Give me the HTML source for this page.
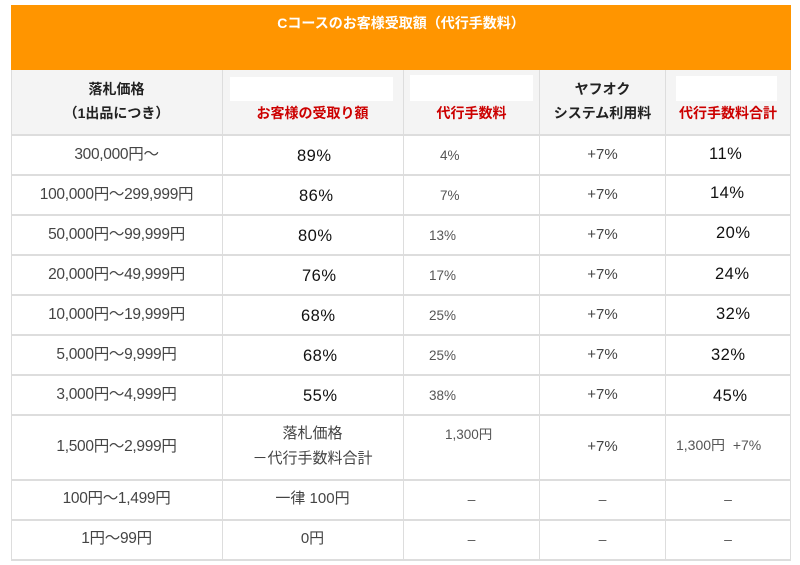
<!DOCTYPE html>
<html><head><meta charset="utf-8"><style>
body{margin:0;width:800px;height:565px;background:#fff;position:relative;overflow:hidden;font-family:"Liberation Sans","Noto Sans CJK JP",sans-serif;}
.a{position:absolute;white-space:nowrap;line-height:1;}
.h{position:absolute;background:#ddd;height:2px;left:11px;width:780px;}
.v{position:absolute;background:#ddd;width:1px;}
.c1{color:#444;font-size:15.5px;width:211px;left:11px;text-align:center;letter-spacing:-0.3px;}
.p{color:#111;font-size:16.5px;letter-spacing:0.5px;}
.s{color:#555;font-size:13.5px;}
.c4{color:#444;font-size:15px;left:540px;width:125px;text-align:center;}
.r{color:#c00;font-size:14px;font-weight:bold;}
.k{color:#222;font-size:14px;font-weight:bold;}
.w{position:absolute;background:#fff;}
.d{color:#555;font-size:14px;}
</style></head><body>
<div style="position:absolute;left:11px;top:5px;width:780px;height:65px;background:#ff9500;"></div>
<div class="a" style="left:11px;width:780px;text-align:center;top:16px;color:#fff;font-size:14px;font-weight:bold;">Cコースのお客様受取額（代行手数料）</div>
<div style="position:absolute;left:11px;top:70px;width:780px;height:65px;background:#f4f4f4;"></div>
<div class="w" style="left:230px;top:77px;width:163px;height:24px;"></div>
<div class="w" style="left:410px;top:75px;width:123px;height:26px;"></div>
<div class="w" style="left:676px;top:76px;width:101px;height:25px;"></div>
<div class="a k" style="left:11px;width:211px;text-align:center;top:82px;">落札価格</div>
<div class="a k" style="left:11px;width:211px;text-align:center;top:106px;">（1出品につき）</div>
<div class="a r" style="left:222px;width:181px;text-align:center;top:106px;">お客様の受取り額</div>
<div class="a r" style="left:403px;width:137px;text-align:center;top:106px;">代行手数料</div>
<div class="a k" style="left:540px;width:125px;text-align:center;top:82px;">ヤフオク</div>
<div class="a k" style="left:540px;width:125px;text-align:center;top:106px;">システム利用料</div>
<div class="a r" style="left:665px;width:126px;text-align:center;top:106px;">代行手数料合計</div>

<div class="v" style="left:11px;top:70px;height:491px;"></div>
<div class="v" style="left:222px;top:70px;height:491px;"></div>
<div class="v" style="left:403px;top:70px;height:491px;"></div>
<div class="v" style="left:539px;top:70px;height:491px;"></div>
<div class="v" style="left:665px;top:70px;height:491px;"></div>
<div class="v" style="left:790px;top:70px;height:491px;"></div>
<div class="h" style="top:134px"></div><div class="h" style="top:174px"></div><div class="h" style="top:214px"></div><div class="h" style="top:254px"></div><div class="h" style="top:294px"></div><div class="h" style="top:334px"></div><div class="h" style="top:374px"></div><div class="h" style="top:414px"></div><div class="h" style="top:479px"></div><div class="h" style="top:519px"></div><div class="h" style="top:559px"></div>

<div class="a c1" style="top:147px">300,000円～</div>
<div class="a p" style="left:297px;top:148px">89%</div>
<div class="a s" style="left:440px;top:149px">4%</div>
<div class="a c4" style="top:147px">+7%</div>
<div class="a p" style="left:709px;top:146px">11%</div>

<div class="a c1" style="top:187px">100,000円～299,999円</div>
<div class="a p" style="left:299px;top:188px">86%</div>
<div class="a s" style="left:440px;top:189px">7%</div>
<div class="a c4" style="top:187px">+7%</div>
<div class="a p" style="left:710px;top:185px">14%</div>

<div class="a c1" style="top:227px">50,000円～99,999円</div>
<div class="a p" style="left:298px;top:228px">80%</div>
<div class="a s" style="left:429px;top:229px">13%</div>
<div class="a c4" style="top:227px">+7%</div>
<div class="a p" style="left:716px;top:225px">20%</div>

<div class="a c1" style="top:267px">20,000円～49,999円</div>
<div class="a p" style="left:302px;top:268px">76%</div>
<div class="a s" style="left:429px;top:269px">17%</div>
<div class="a c4" style="top:267px">+7%</div>
<div class="a p" style="left:715px;top:266px">24%</div>

<div class="a c1" style="top:307px">10,000円～19,999円</div>
<div class="a p" style="left:301px;top:308px">68%</div>
<div class="a s" style="left:429px;top:309px">25%</div>
<div class="a c4" style="top:307px">+7%</div>
<div class="a p" style="left:716px;top:306px">32%</div>

<div class="a c1" style="top:347px">5,000円～9,999円</div>
<div class="a p" style="left:303px;top:348px">68%</div>
<div class="a s" style="left:429px;top:349px">25%</div>
<div class="a c4" style="top:347px">+7%</div>
<div class="a p" style="left:711px;top:347px">32%</div>

<div class="a c1" style="top:387px">3,000円～4,999円</div>
<div class="a p" style="left:303px;top:388px">55%</div>
<div class="a s" style="left:429px;top:389px">38%</div>
<div class="a c4" style="top:387px">+7%</div>
<div class="a p" style="left:713px;top:388px">45%</div>

<div class="a c1" style="top:439px">1,500円～2,999円</div>
<div class="a" style="left:222px;width:181px;text-align:center;top:426px;color:#444;font-size:15px;">落札価格</div>
<div class="a" style="left:222px;width:181px;text-align:center;top:451px;color:#444;font-size:15px;">－代行手数料合計</div>
<div class="a s" style="left:445px;top:428px">1,300円</div>
<div class="a c4" style="top:439px">+7%</div>
<div class="a s" style="left:676px;top:438px;font-size:14px">1,300円&nbsp;&nbsp;+7%</div>

<div class="a c1" style="top:491px">100円～1,499円</div>
<div class="a" style="left:222px;width:181px;text-align:center;top:491px;color:#444;font-size:15px;">一律 100円</div>
<div class="a d" style="left:403px;width:137px;text-align:center;top:492px">–</div>
<div class="a d" style="left:540px;width:125px;text-align:center;top:492px">–</div>
<div class="a d" style="left:665px;width:126px;text-align:center;top:492px">–</div>

<div class="a c1" style="top:531px">1円～99円</div>
<div class="a" style="left:222px;width:181px;text-align:center;top:531px;color:#444;font-size:15px;">0円</div>
<div class="a d" style="left:403px;width:137px;text-align:center;top:532px">–</div>
<div class="a d" style="left:540px;width:125px;text-align:center;top:532px">–</div>
<div class="a d" style="left:665px;width:126px;text-align:center;top:532px">–</div>
</body></html>
